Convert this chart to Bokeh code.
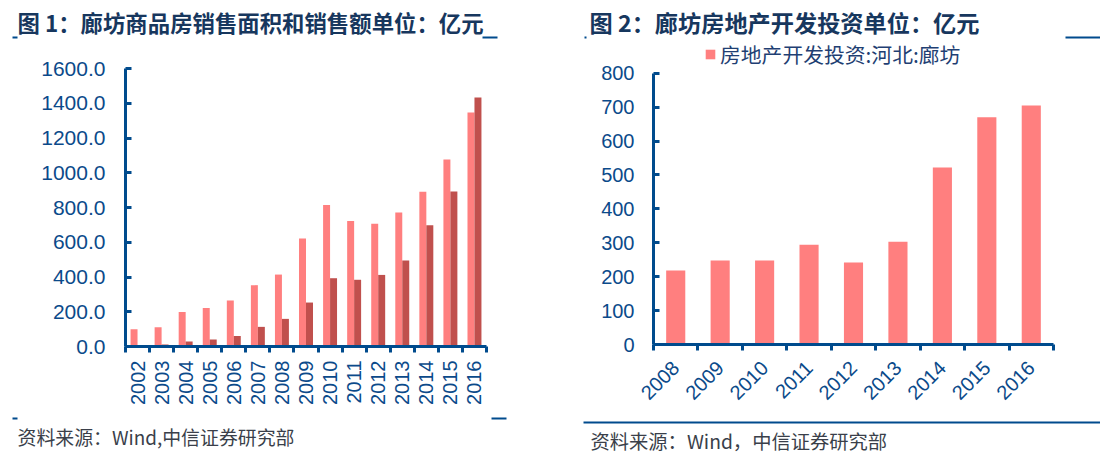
import math
from bokeh.plotting import figure
from bokeh.layouts import row
from bokeh.models import (Range1d, FixedTicker, Label, BoxAnnotation, Legend, LegendItem,
                          ColumnDataSource)
from bokeh.embed import file_html
from bokeh.resources import INLINE

# ---------------- data ----------------
years1 = ["2002", "2003", "2004", "2005", "2006", "2007", "2008", "2009",
          "2010", "2011", "2012", "2013", "2014", "2015", "2016"]
area1 = [100, 111, 198, 222, 265, 353, 414, 621, 815, 723, 706, 771, 890, 1076, 1347]
sales1 = [6, 11, 29, 40, 61, 113, 159, 253, 393, 384, 412, 495, 698, 892, 1433]
yticks1 = [0, 200, 400, 600, 800, 1000, 1200, 1400, 1600]

years2 = ["2008", "2009", "2010", "2011", "2012", "2013", "2014", "2015", "2016"]
invest2 = [218, 248, 248, 294, 242, 303, 522, 670, 705]
yticks2 = [0, 100, 200, 300, 400, 500, 600, 700, 800]

title1 = "图 1：廊坊商品房销售面积和销售额单位：亿元"
title2 = "图 2：廊坊房地产开发投资单位：亿元"
legend2 = "房地产开发投资:河北:廊坊"
source1 = "资料来源：Wind,中信证券研究部"
source2 = "资料来源：Wind，中信证券研究部"

# ---------------- styles ----------------
NAVY = "#004B8D"
TICK_TXT = "#0B4A8A"
TITLE_C = "#17375E"
FOOT_C = "#3A3F4A"
LIGHT = "#FF7F7F"
DARK = "#C0504D"
LAT = "Liberation Sans"
CJK = "Noto Sans CJK SC"
H = 459
OY = 0


def make_fig(w, ox, ax_left, ax_right, ax_top, ax_bottom, ncat, ymax):
    """Frame covers the whole canvas; axes are pinned inside it."""
    cl, cr = ax_left - ox, ax_right - ox
    ct, cb = ax_top - OY, ax_bottom - OY
    ppx = (cr - cl) / ncat
    ppy = (cb - ct) / ymax
    xr = Range1d(-cl / ppx, (w - cl) / ppx)
    yr = Range1d(-(H - cb) / ppy, ymax + ct / ppy)
    p = figure(width=w, height=H, output_backend="svg", toolbar_location=None,
               x_range=xr, y_range=yr, min_border=0,
               min_border_left=0, min_border_right=0, min_border_top=0, min_border_bottom=0)
    p.xaxis.fixed_location = 0
    p.yaxis.fixed_location = 0
    p.xaxis.bounds = (0, ncat)
    p.yaxis.bounds = (0, ymax)
    for ax in (p.xaxis[0], p.yaxis[0]):
        ax.axis_line_color = NAVY
        ax.axis_line_width = 3
        ax.major_label_text_color = TICK_TXT
        ax.major_label_text_font = LAT
        ax.major_label_text_font_size = "20px"
    y = p.yaxis[0]
    y.major_tick_in = 6
    y.major_tick_out = 0
    y.major_tick_line_color = NAVY
    y.major_tick_line_width = 3
    y.minor_tick_line_color = None
    x = p.xaxis[0]
    x.major_tick_line_color = None
    x.major_tick_in = 0
    x.major_tick_out = 0
    x.minor_tick_line_color = NAVY
    x.minor_tick_line_width = 3
    x.minor_tick_in = 0
    x.minor_tick_out = 6
    p.grid.visible = False
    p.outline_line_color = None
    p.background_fill_color = None
    return p


def add_text(p, ox, px, py, text, size, color, font, style="normal"):
    p.add_layout(Label(x=px - ox, y=(OY + H) - py, x_units="screen", y_units="screen",
                       text=text, text_font=font, text_font_size=size, text_color=color,
                       text_font_style=style, text_baseline="middle", text_align="left"))


def add_bar(p, ox, x0, x1, y0, y1, color):
    p.add_layout(BoxAnnotation(left=x0 - ox, right=x1 - ox,
                               top=(OY + H) - y0, bottom=(OY + H) - y1,
                               left_units="screen", right_units="screen",
                               top_units="screen", bottom_units="screen",
                               fill_color=color, fill_alpha=1, line_color=None))


# ---------------- chart 1 ----------------
OX1, W1 = 0, 564
p1 = make_fig(W1, OX1, 125, 486, 68, 346, len(years1), 1600)
centers1 = [i + 0.5 for i in range(len(years1))]
bw1 = 0.29
src1 = ColumnDataSource(dict(xl=[c - bw1 / 2 for c in centers1], xd=[c + bw1 / 2 for c in centers1],
                             area=area1, sales=sales1))
p1.vbar(x="xl", top="area", width=bw1, source=src1, fill_color=LIGHT, line_color=None)
p1.vbar(x="xd", top="sales", width=bw1, source=src1, fill_color=DARK, line_color=None)
p1.xaxis.ticker = FixedTicker(ticks=centers1, minor_ticks=list(range(len(years1) + 1)))
p1.xaxis.major_label_overrides = {c: y for c, y in zip(centers1, years1)}
p1.xaxis.major_label_orientation = math.pi / 2
p1.yaxis.ticker = FixedTicker(ticks=yticks1)
p1.yaxis.major_label_overrides = {v: f"{v:.1f}" for v in yticks1}
p1.xaxis.major_label_standoff = 8
p1.yaxis.major_label_standoff = 20
p1.yaxis.major_label_text_font_size = "21px"

add_text(p1, OX1, 17, 21, title1, "22.4px", TITLE_C, CJK, "bold")
add_text(p1, OX1, 17, 436, source1, "18.9px", FOOT_C, CJK)
add_bar(p1, OX1, 12, 17, 36, 38, NAVY)
add_bar(p1, OX1, 482, 497, 36, 38, NAVY)
add_bar(p1, OX1, 12, 17, 417, 419, NAVY)
add_bar(p1, OX1, 491, 506, 417, 419, NAVY)

# ---------------- chart 2 ----------------
OX2, W2 = 564, 536
p2 = make_fig(W2, OX2, 653, 1053, 72.7, 344, len(years2), 800)
centers2 = [i + 0.5 for i in range(len(years2))]
src2 = ColumnDataSource(dict(x=centers2, v=invest2))
r2 = p2.vbar(x="x", top="v", width=0.43, source=src2, fill_color=LIGHT, line_color=None)
p2.xaxis.ticker = FixedTicker(ticks=centers2, minor_ticks=list(range(len(years2) + 1)))
p2.xaxis.major_label_overrides = {c: y for c, y in zip(centers2, years2)}
p2.xaxis.major_label_orientation = math.pi / 4
p2.yaxis.ticker = FixedTicker(ticks=yticks2)
p2.xaxis.major_label_standoff = 14
p2.yaxis.major_label_standoff = 19

legend = Legend(items=[LegendItem(label=legend2, renderers=[r2])],
                location=(704 - OX2, (OY + H) - 69),
                padding=0, margin=0, spacing=0, glyph_width=12, glyph_height=12,
                label_standoff=4, label_text_font=CJK, label_text_font_size="20.8px",
                label_text_color="#1F3F73", border_line_color=None,
                background_fill_alpha=0)
p2.add_layout(legend)

add_text(p2, OX2, 589, 21, title2, "23.2px", TITLE_C, CJK, "bold")
add_text(p2, OX2, 590, 440, source2, "19.3px", FOOT_C, CJK)
add_bar(p2, OX2, 584, 586, 36, 38, NAVY)
add_bar(p2, OX2, 1065, 1102, 36, 38, NAVY)
add_bar(p2, OX2, 583, 1102, 421, 423, NAVY)

layout = row(p1, p2)
open("out.html", "w").write(file_html(layout, INLINE))
